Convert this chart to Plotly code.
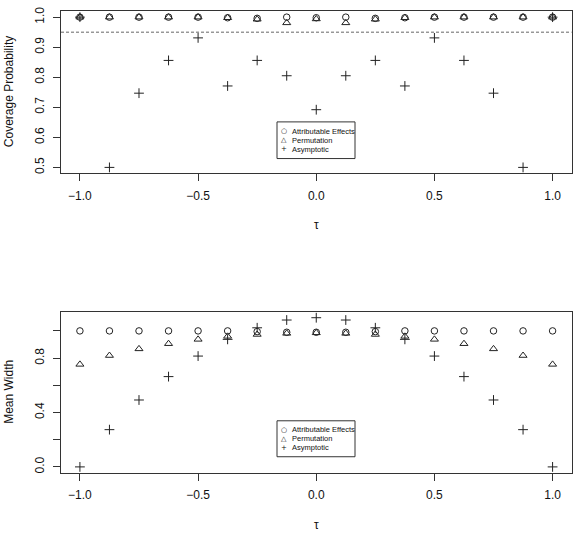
import plotly.graph_objects as go

W, H = 582, 537

# ---- data ----
tau = [-1.0, -0.875, -0.75, -0.625, -0.5, -0.375, -0.25, -0.125, 0.0,
       0.125, 0.25, 0.375, 0.5, 0.625, 0.75, 0.875, 1.0]

cov_attr = [1.0, 1.0, 1.0, 1.0, 1.0, 0.998, 0.996, 1.0, 0.998,
            1.0, 0.996, 0.998, 1.0, 1.0, 1.0, 1.0, 1.0]
cov_perm = [1.0, 1.0, 1.0, 1.0, 1.0, 0.998, 0.993, 0.981, 0.994,
            0.981, 0.993, 0.998, 1.0, 1.0, 1.0, 1.0, 1.0]
cov_asym = [1.0, 0.5, 0.747, 0.856, 0.931, 0.771, 0.856, 0.805, 0.692,
            0.805, 0.856, 0.771, 0.931, 0.856, 0.747, 0.5, 1.0]
nominal_level = 0.95

wid_attr = [1.0, 1.0, 1.0, 1.0, 1.0, 1.0, 0.995, 0.99, 0.99,
            0.99, 0.995, 1.0, 1.0, 1.0, 1.0, 1.0, 1.0]
wid_perm = [0.754, 0.819, 0.868, 0.906, 0.938, 0.96, 0.974, 0.982, 0.986,
            0.982, 0.974, 0.96, 0.938, 0.906, 0.868, 0.819, 0.754]
wid_asym = [0.0, 0.274, 0.492, 0.664, 0.815, 0.938, 1.023, 1.08, 1.097,
            1.08, 1.023, 0.938, 0.815, 0.664, 0.492, 0.274, 0.0]

series_names = ["Attributable Effects", "Permutation", "Asymptotic"]
x_ticks = [-1.0, -0.5, 0.0, 0.5, 1.0]
x_ticktext = ["\u22121.0", "\u22120.5", "0.0", "0.5", "1.0"]
y1_ticks = [0.5, 0.6, 0.7, 0.8, 0.9, 1.0]
y1_ticktext = ["0.5", "0.6", "0.7", "0.8", "0.9", "1.0"]
y2_ticks = [0.0, 0.2, 0.4, 0.6, 0.8, 1.0]
y2_ticktext = ["0.0", "", "0.4", "", "0.8", ""]

# ---- style ----
INK = "#222222"
FONT = "Liberation Sans, Arial, sans-serif"
symbols = ["circle-open", "triangle-up-open", "cross-thin-open"]
sizes = [6.5, 7, 7]


def px(x):
    return x / W


def py(y):
    return 1 - y / H


fig = go.Figure()

panels = [
    ("x", "y", [cov_attr, cov_perm, cov_asym]),
    ("x2", "y2", [wid_attr, wid_perm, wid_asym]),
]
for xa, ya, ys in panels:
    for name, vals, sym, sz in zip(series_names, ys, symbols, sizes):
        fig.add_trace(go.Scatter(
            x=tau, y=vals, mode="markers", name=name, xaxis=xa, yaxis=ya,
            showlegend=False,
            marker=dict(symbol=sym, size=sz, color=INK,
                        line=dict(color=INK, width=1)),
        ))

# nominal level line
fig.add_shape(type="line", xref="x domain", yref="y", x0=0, x1=1,
              y0=nominal_level, y1=nominal_level,
              line=dict(color="#666666", width=1, dash="3px,2px"))

axis_common = dict(showline=True, mirror=True, linecolor="#333333",
                   linewidth=1, ticks="outside", ticklen=7, tickwidth=1,
                   tickcolor="#333333", showgrid=False, zeroline=False,
                   tickfont=dict(family=FONT, size=12, color="#111111"))

x_dom = [px(61), px(571.5)]
fig.update_layout(
    width=W, height=H, margin=dict(l=0, r=0, t=0, b=0),
    paper_bgcolor="white", plot_bgcolor="white",
    font=dict(family=FONT, size=12, color="#111111"),
    xaxis=dict(domain=x_dom, anchor="y", range=[-1.08, 1.08],
               tickmode="array", tickvals=x_ticks, ticktext=x_ticktext,
               ticklabelstandoff=4, **axis_common),
    yaxis=dict(domain=[py(171), py(7.2)], anchor="x", range=[0.48, 1.02],
               tickmode="array", tickvals=y1_ticks, ticktext=y1_ticktext,
               tickangle=-90, ticklabelstandoff=4, **axis_common),
    xaxis2=dict(domain=x_dom, anchor="y2", range=[-1.08, 1.08],
                tickmode="array", tickvals=x_ticks, ticktext=x_ticktext,
                ticklabelstandoff=4, **axis_common),
    yaxis2=dict(domain=[py(473.3), py(310.9)], anchor="x2",
                range=[-0.044, 1.139],
                tickmode="array", tickvals=y2_ticks, ticktext=y2_ticktext,
                tickangle=-90, ticklabelstandoff=4, **axis_common),
)

# axis titles
titles = [
    dict(text="Coverage Probability", x=px(9), y=py(89), textangle=-90),
    dict(text="\u03c4", x=px(316.3), y=py(223), textangle=0),
    dict(text="Mean Width", x=px(9), y=py(391.5), textangle=-90),
    dict(text="\u03c4", x=px(316.3), y=py(526), textangle=0),
]
for t in titles:
    fig.add_annotation(xref="paper", yref="paper", showarrow=False,
                       xanchor="center", yanchor="middle",
                       font=dict(family=FONT, size=12, color="#111111"), **t)

# legends (drawn as box + text lines)
legend_glyphs = ["\u25cb", "\u25b3", "+"]
for top, bottom, rows in [(119, 156, [128.3, 137.7, 146.7]),
                          (420.7, 457, [430, 439, 448])]:
    fig.add_shape(type="rect", xref="paper", yref="paper",
                  x0=px(277), x1=px(355), y0=py(bottom), y1=py(top),
                  line=dict(color="#333333", width=1), fillcolor="white",
                  layer="above")
    for name, g, ry in zip(series_names, legend_glyphs, rows):
        fig.add_annotation(xref="paper", yref="paper", showarrow=False,
                           x=px(283.6), y=py(ry), xanchor="center",
                           yanchor="middle", text=g,
                           font=dict(family="DejaVu Sans", size=7,
                                     color="#111111"))
        fig.add_annotation(xref="paper", yref="paper", showarrow=False,
                           x=px(290), y=py(ry), xanchor="left",
                           yanchor="middle", text=name,
                           font=dict(family=FONT, size=7.5, color="#111111"))

fig.write_html("out.html")
